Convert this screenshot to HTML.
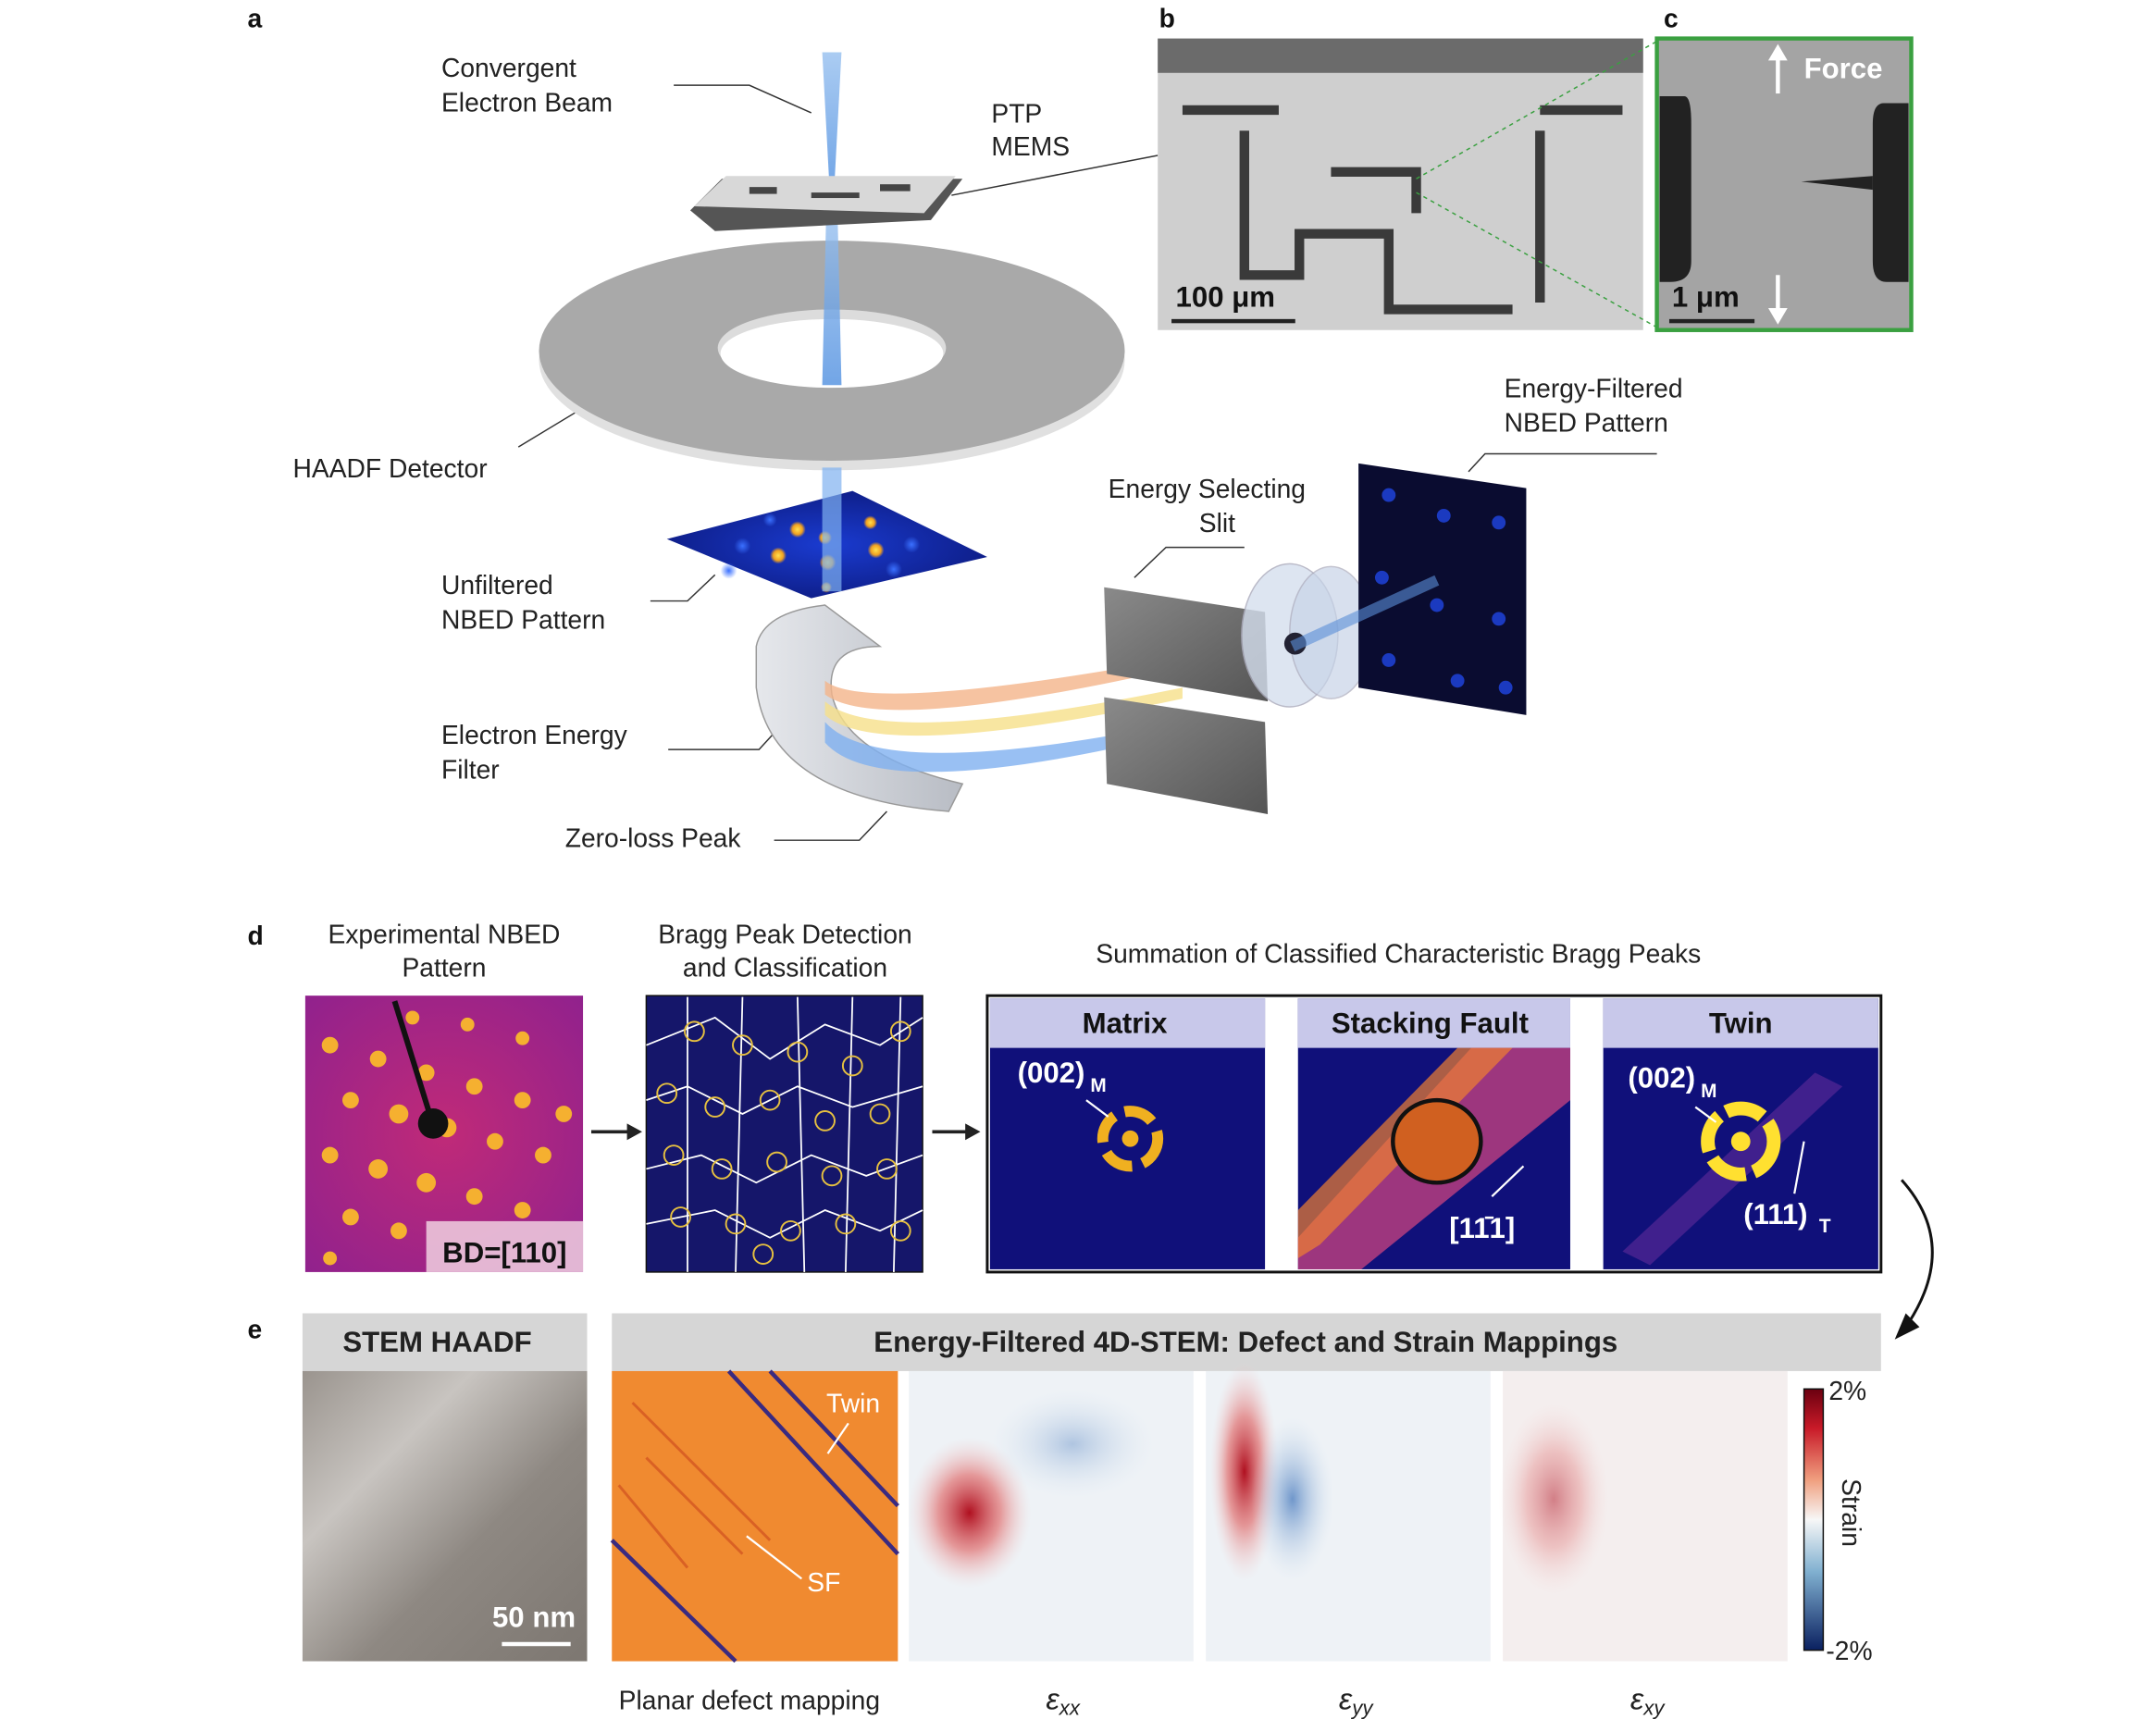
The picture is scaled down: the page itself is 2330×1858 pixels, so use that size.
<!DOCTYPE html>
<html><head><meta charset="utf-8"><style>
html,body{margin:0;padding:0;background:#fff;}
svg{display:block;}
text{font-family:"Liberation Sans",Arial,sans-serif;}
</style></head><body>
<svg width="2330" height="1858" viewBox="0 0 1568 1250" preserveAspectRatio="none" xmlns="http://www.w3.org/2000/svg">
<defs>
<linearGradient id="beam" x1="0" y1="0" x2="0" y2="1"><stop offset="0" stop-color="#9cc3f0"/><stop offset="1" stop-color="#4f8fe0"/></linearGradient>
<radialGradient id="nb" cx="0.5" cy="0.5" r="0.7"><stop offset="0" stop-color="#1a3bd0"/><stop offset="1" stop-color="#0a1470"/></radialGradient>
<radialGradient id="spot"><stop offset="0" stop-color="#ffe050"/><stop offset="0.6" stop-color="#f0a020"/><stop offset="1" stop-color="#f0a020" stop-opacity="0"/></radialGradient>
<radialGradient id="bspot"><stop offset="0" stop-color="#3a70ff"/><stop offset="1" stop-color="#3a70ff" stop-opacity="0"/></radialGradient>
<radialGradient id="redblob" cx="0.5" cy="0.5" r="0.5"><stop offset="0" stop-color="#b01020"/><stop offset="0.5" stop-color="#e07070" stop-opacity="0.7"/><stop offset="1" stop-color="#f4d0d0" stop-opacity="0"/></radialGradient>
<radialGradient id="blueblob" cx="0.5" cy="0.5" r="0.5"><stop offset="0" stop-color="#5080c0"/><stop offset="1" stop-color="#cfe0f0" stop-opacity="0"/></radialGradient>
<radialGradient id="mag" cx="0.5" cy="0.5" r="0.8"><stop offset="0" stop-color="#c02a78"/><stop offset="1" stop-color="#8a2090"/></radialGradient>
<linearGradient id="cbar" x1="0" y1="0" x2="0" y2="1"><stop offset="0" stop-color="#6b0010"/><stop offset="0.15" stop-color="#c81a28"/><stop offset="0.35" stop-color="#f0a080"/><stop offset="0.5" stop-color="#f7f7f7"/><stop offset="0.7" stop-color="#80b0d0"/><stop offset="1" stop-color="#0a2060"/></linearGradient>
<linearGradient id="haadf" x1="0" y1="0" x2="1" y2="1"><stop offset="0" stop-color="#9a948e"/><stop offset="0.3" stop-color="#c8c4c0"/><stop offset="0.6" stop-color="#8e8882"/><stop offset="1" stop-color="#7d7771"/></linearGradient>
<linearGradient id="slit" x1="0" y1="0" x2="1" y2="1"><stop offset="0" stop-color="#8a8a8a"/><stop offset="1" stop-color="#555"/></linearGradient>
<linearGradient id="filt" x1="0" y1="0" x2="1" y2="0"><stop offset="0" stop-color="#e6e8ec"/><stop offset="1" stop-color="#b8bcc4"/></linearGradient>
</defs>
<g font-size="19" fill="#111">
<text x="180" y="20" font-weight="bold">a</text>
<text x="843" y="20" font-weight="bold">b</text>
<text x="1210" y="20" font-weight="bold">c</text>
<text x="180" y="687" font-weight="bold">d</text>
<text x="180" y="973" font-weight="bold">e</text>
</g>
<g font-size="19" fill="#222">
<text x="321" y="56">Convergent</text><text x="321" y="81">Electron Beam</text>
<text x="721" y="89">PTP</text><text x="721" y="113">MEMS</text>
<text x="213" y="347">HAADF Detector</text>
<text x="321" y="432">Unfiltered</text><text x="321" y="457">NBED Pattern</text>
<text x="321" y="541">Electron Energy</text><text x="321" y="566">Filter</text>
<text x="411" y="616">Zero-loss Peak</text>
<text x="806" y="362">Energy Selecting</text><text x="872" y="387">Slit</text>
<text x="1094" y="289">Energy-Filtered</text><text x="1094" y="314">NBED Pattern</text>
</g>
<g stroke="#333" stroke-width="1" fill="none">
<polyline points="490,62 545,62 590,82"/>
<line x1="692" y1="142" x2="842" y2="113"/>
<line x1="377" y1="325" x2="430" y2="293"/>
<polyline points="473,437 500,437 520,418"/>
<polyline points="486,545 552,545 575,520"/>
<polyline points="563,611 625,611 645,590"/>
<polyline points="825,420 848,398 905,398"/>
<polyline points="1068,343 1080,330 1205,330"/>
</g>
<polygon points="598,38 612,38 606,150 604,150" fill="url(#beam)" opacity="0.85"/>
<ellipse cx="605" cy="262" rx="213" ry="80" fill="#e0e0e0"/>
<ellipse cx="605" cy="255" rx="213" ry="80" fill="#a9a9a9"/>
<ellipse cx="605" cy="253" rx="83" ry="28" fill="#dcdcdc"/>
<ellipse cx="605" cy="257" rx="81" ry="25" fill="#fff"/>
<polygon points="601,150 609,150 612,280 598,280" fill="url(#beam)" opacity="0.8"/>
<polygon points="502,153 525,130 700,130 677,160 520,168" fill="#555"/>
<polygon points="505,150 528,128 695,128 672,155" fill="#d8d8d8"/>
<g fill="#444"><rect x="545" y="136" width="20" height="5"/><rect x="640" y="134" width="22" height="5"/><rect x="590" y="140" width="35" height="4"/></g>
<polygon points="485,392 620,357 718,405 590,435" fill="url(#nb)"/>
<g fill="url(#spot)"><circle cx="580" cy="385" r="6"/><circle cx="566" cy="404" r="6"/><circle cx="602" cy="409" r="6"/><circle cx="637" cy="400" r="6"/><circle cx="633" cy="380" r="5"/><circle cx="600" cy="391" r="5"/><circle cx="601" cy="427" r="4"/></g>
<g fill="url(#bspot)"><circle cx="540" cy="397" r="6"/><circle cx="663" cy="396" r="6"/><circle cx="650" cy="414" r="6"/><circle cx="560" cy="378" r="5"/><circle cx="530" cy="415" r="6"/></g>
<rect x="598" y="340" width="14" height="90" fill="#7fb0f0" opacity="0.7"/>
<path d="M550,470 Q555,445 600,440 L640,470 Q600,470 605,505 Q615,550 700,570 L690,590 Q560,580 550,500 Z" fill="url(#filt)" stroke="#999" stroke-width="1"/>
<path d="M600,495 Q630,520 860,478 L860,485 Q640,535 600,505 Z" fill="#f4b48a" opacity="0.8"/>
<path d="M600,510 Q640,545 860,500 L860,508 Q640,555 600,520 Z" fill="#f6e08a" opacity="0.8"/>
<path d="M600,525 Q640,570 860,525 L850,535 Q640,585 600,540 Z" fill="#7fb0f0" opacity="0.8"/>
<polygon points="803,427 920,445 922,510 805,490" fill="url(#slit)"/>
<polygon points="803,507 920,525 922,592 805,570" fill="url(#slit)"/>
<ellipse cx="938" cy="462" rx="35" ry="52" fill="#d5dfee" opacity="0.8" stroke="#aab" />
<ellipse cx="968" cy="460" rx="30" ry="48" fill="#c8d4e8" opacity="0.7" stroke="#aab"/>
<circle cx="942" cy="468" r="8" fill="#223"/>
<polygon points="988,337 1110,355 1110,520 988,500" fill="#0a0c30"/>
<g fill="#1d3fd0" opacity="0.9"><circle cx="1010" cy="360" r="5"/><circle cx="1050" cy="375" r="5"/><circle cx="1090" cy="380" r="5"/><circle cx="1005" cy="420" r="5"/><circle cx="1045" cy="440" r="5"/><circle cx="1090" cy="450" r="5"/><circle cx="1010" cy="480" r="5"/><circle cx="1060" cy="495" r="5"/><circle cx="1095" cy="500" r="5"/></g>
<line x1="940" y1="470" x2="1045" y2="422" stroke="#5b8fd8" stroke-width="8" opacity="0.6"/>
<rect x="842" y="28" width="353" height="212" fill="#cfcfcf"/>
<rect x="842" y="28" width="353" height="25" fill="#6b6b6b"/>
<g fill="none" stroke="#3a3a3a" stroke-width="7">
<path d="M905,95 L905,200 L945,200 L945,170 L1010,170 L1010,225 L1100,225"/>
<path d="M1120,95 L1120,220"/>
<path d="M968,125 L1030,125 L1030,155"/>
<path d="M860,80 L930,80 M1120,80 L1180,80"/>
</g>
<rect x="852" y="232" width="90" height="3" fill="#222"/>
<text x="855" y="223" font-size="21" font-weight="bold" fill="#111">100 μm</text>
<rect x="1205" y="28" width="185" height="212" fill="#a4a4a4" stroke="#3aa040" stroke-width="3"/>
<path d="M1207,70 L1225,70 Q1230,70 1230,90 L1230,190 Q1230,205 1215,205 L1207,205 Z" fill="#222"/>
<path d="M1388,75 L1370,75 Q1362,75 1362,90 L1362,190 Q1362,205 1372,205 L1388,205 Z" fill="#222"/>
<polygon points="1310,132 1362,128 1362,138" fill="#222"/>
<text x="1312" y="57" font-size="21" font-weight="bold" fill="#fff">Force</text>
<line x1="1293" y1="68" x2="1293" y2="40" stroke="#fff" stroke-width="3"/><polygon points="1286,44 1300,44 1293,32" fill="#fff"/>
<line x1="1293" y1="200" x2="1293" y2="228" stroke="#fff" stroke-width="3"/><polygon points="1286,224 1300,224 1293,236" fill="#fff"/>
<text x="1216" y="223" font-size="21" font-weight="bold" fill="#111">1 μm</text>
<rect x="1214" y="232" width="62" height="3" fill="#222"/>
<line x1="1030" y1="130" x2="1205" y2="30" stroke="#3aa040" stroke-dasharray="3,3"/>
<line x1="1030" y1="140" x2="1205" y2="238" stroke="#3aa040" stroke-dasharray="3,3"/>
<g font-size="19" fill="#222" text-anchor="middle">
<text x="323" y="686">Experimental NBED</text><text x="323" y="710">Pattern</text>
<text x="571" y="686">Bragg Peak Detection</text><text x="571" y="710">and Classification</text>
<text x="1017" y="700">Summation of Classified Characteristic Bragg Peaks</text>
</g>
<rect x="222" y="724" width="202" height="201" fill="url(#mag)"/>
<g fill="#f5b030">
<circle cx="240" cy="760" r="6"/><circle cx="275" cy="770" r="6"/><circle cx="310" cy="780" r="6"/><circle cx="345" cy="790" r="6"/><circle cx="380" cy="800" r="6"/><circle cx="410" cy="810" r="6"/>
<circle cx="255" cy="800" r="6"/><circle cx="290" cy="810" r="7"/><circle cx="325" cy="820" r="7"/><circle cx="360" cy="830" r="6"/><circle cx="395" cy="840" r="6"/>
<circle cx="240" cy="840" r="6"/><circle cx="275" cy="850" r="7"/><circle cx="310" cy="860" r="7"/><circle cx="345" cy="870" r="6"/><circle cx="380" cy="880" r="6"/>
<circle cx="255" cy="885" r="6"/><circle cx="290" cy="895" r="6"/><circle cx="240" cy="915" r="5"/><circle cx="300" cy="740" r="5"/><circle cx="340" cy="745" r="5"/><circle cx="380" cy="755" r="5"/>
</g>
<line x1="287" y1="728" x2="314" y2="815" stroke="#111" stroke-width="4"/><circle cx="315" cy="817" r="11" fill="#111"/>
<rect x="310" y="888" width="114" height="37" fill="#f0d0e0" opacity="0.85"/>
<text x="367" y="918" font-size="21" font-weight="bold" text-anchor="middle" fill="#111">BD=[110]</text>
<rect x="470" y="724" width="201" height="201" fill="#15166a" stroke="#111"/>
<g stroke="#fff" stroke-width="1.2" fill="none">
<path d="M470,760 L520,740 L560,770 L600,745 L640,760 L671,740 M470,800 L500,790 L540,810 L580,790 L620,805 L671,790 M470,850 L510,840 L550,860 L590,840 L630,855 L671,840 M470,890 L520,880 L560,900 L600,880 L640,895 L671,880 M500,725 L500,925 M540,725 L535,925 M580,725 L585,925 M620,725 L615,925 M655,725 L650,925"/>
</g>
<g fill="none" stroke="#e6c040" stroke-width="1.3">
<circle cx="505" cy="750" r="7"/><circle cx="540" cy="760" r="7"/><circle cx="580" cy="765" r="7"/><circle cx="620" cy="775" r="7"/><circle cx="655" cy="750" r="7"/>
<circle cx="485" cy="795" r="7"/><circle cx="520" cy="805" r="7"/><circle cx="560" cy="800" r="7"/><circle cx="600" cy="815" r="7"/><circle cx="640" cy="810" r="7"/>
<circle cx="490" cy="840" r="7"/><circle cx="525" cy="850" r="7"/><circle cx="565" cy="845" r="7"/><circle cx="605" cy="855" r="7"/><circle cx="645" cy="850" r="7"/>
<circle cx="495" cy="885" r="7"/><circle cx="535" cy="890" r="7"/><circle cx="575" cy="895" r="7"/><circle cx="615" cy="890" r="7"/><circle cx="655" cy="895" r="7"/><circle cx="555" cy="912" r="7"/>
</g>
<g stroke="#222" stroke-width="2.5"><line x1="430" y1="823" x2="458" y2="823"/><line x1="678" y1="823" x2="704" y2="823"/></g>
<polygon points="456,817 467,823 456,829" fill="#222"/><polygon points="702,817 713,823 702,829" fill="#222"/>
<rect x="718" y="724" width="650" height="201" fill="#fff" stroke="#111" stroke-width="2"/>
<rect x="720" y="726" width="200" height="197" fill="#10107a"/>
<rect x="944" y="726" width="198" height="197" fill="#10107a"/>
<rect x="1166" y="726" width="200" height="197" fill="#10107a"/>
<g fill="#c8c8ea"><rect x="720" y="726" width="200" height="36"/><rect x="944" y="726" width="198" height="36"/><rect x="1166" y="726" width="200" height="36"/></g>
<g font-size="21" font-weight="bold" fill="#111" text-anchor="middle"><text x="818" y="751">Matrix</text><text x="1040" y="751">Stacking Fault</text><text x="1266" y="751">Twin</text></g>
<circle cx="822" cy="828" r="20" fill="none" stroke="#f0b020" stroke-width="8" stroke-dasharray="22,8"/>
<circle cx="822" cy="828" r="6" fill="#f0b020"/>
<polygon points="944,900 1070,762 1142,762 1142,800 990,923 944,923" fill="#c04080" opacity="0.8"/>
<polygon points="944,880 1060,762 1100,762 960,905 944,915" fill="#f08030" opacity="0.7"/>
<ellipse cx="1045" cy="830" rx="32" ry="30" fill="#d06020" stroke="#111" stroke-width="3"/>
<polygon points="1180,910 1320,780 1340,790 1200,920" fill="#7030a0" opacity="0.5"/>
<circle cx="1266" cy="830" r="24" fill="none" stroke="#ffe030" stroke-width="10" stroke-dasharray="28,6"/>
<circle cx="1266" cy="830" r="7" fill="#ffe030"/>
<g fill="#fff" font-weight="bold" font-size="21">
<text x="740" y="787">(002)</text><text x="793" y="794" font-size="14">M</text>
<text x="1184" y="791">(002)</text><text x="1237" y="798" font-size="14">M</text>
<text x="1054" y="900">[11̄1]</text>
<text x="1268" y="890">(111)</text><text x="1323" y="896" font-size="14">T</text>
</g>
<g stroke="#fff" stroke-width="1.5"><line x1="790" y1="800" x2="806" y2="812"/><line x1="1233" y1="805" x2="1248" y2="816"/><line x1="1108" y1="848" x2="1085" y2="870"/><line x1="1312" y1="830" x2="1305" y2="868"/></g>
<path d="M1383,858 Q1425,905 1388,962" fill="none" stroke="#111" stroke-width="2"/>
<polygon points="1378,974 1386,955 1396,965" fill="#111"/>
<rect x="220" y="955" width="207" height="42" fill="#d6d6d6"/>
<rect x="445" y="955" width="923" height="42" fill="#d6d6d6"/>
<text x="318" y="983" font-size="21" font-weight="bold" text-anchor="middle" fill="#222">STEM HAADF</text>
<text x="906" y="983" font-size="21" font-weight="bold" text-anchor="middle" fill="#222">Energy-Filtered 4D-STEM: Defect and Strain Mappings</text>
<rect x="220" y="997" width="207" height="211" fill="url(#haadf)"/>
<text x="358" y="1183" font-size="21" font-weight="bold" fill="#fff">50 nm</text>
<rect x="365" y="1194" width="50" height="3" fill="#fff"/>
<rect x="445" y="997" width="208" height="211" fill="#f08a30"/>
<g stroke="#3a2a80" stroke-width="3"><line x1="530" y1="997" x2="653" y2="1130"/><line x1="445" y1="1120" x2="535" y2="1208"/><line x1="560" y1="997" x2="653" y2="1095"/></g>
<g stroke="#d05020" stroke-width="2" opacity="0.7"><line x1="460" y1="1020" x2="560" y2="1120"/><line x1="470" y1="1060" x2="540" y2="1130"/><line x1="450" y1="1080" x2="500" y2="1140"/></g>
<text x="601" y="1027" font-size="19" fill="#fff">Twin</text>
<text x="587" y="1157" font-size="19" fill="#fff">SF</text>
<g stroke="#fff" stroke-width="1.5"><line x1="617" y1="1035" x2="602" y2="1057"/><line x1="583" y1="1148" x2="543" y2="1117"/></g>
<rect x="661" y="997" width="207" height="211" fill="#eef2f6"/>
<ellipse cx="705" cy="1100" rx="45" ry="55" fill="url(#redblob)"/>
<ellipse cx="780" cy="1050" rx="60" ry="40" fill="url(#blueblob)" opacity="0.4"/>
<rect x="877" y="997" width="207" height="211" fill="#eef2f6"/>
<ellipse cx="905" cy="1070" rx="25" ry="80" fill="url(#redblob)"/>
<ellipse cx="940" cy="1090" rx="30" ry="60" fill="url(#blueblob)" opacity="0.8"/>
<rect x="1093" y="997" width="207" height="211" fill="#f4eeee"/>
<ellipse cx="1130" cy="1090" rx="40" ry="70" fill="url(#redblob)" opacity="0.5"/>
<rect x="1312" y="1010" width="14" height="190" fill="url(#cbar)" stroke="#111"/>
<text x="1330" y="1018" font-size="19" fill="#222">2%</text>
<text x="1328" y="1207" font-size="19" fill="#222">-2%</text>
<text x="1340" y="1100" font-size="19" fill="#222" transform="rotate(90 1340 1100)" text-anchor="middle">Strain</text>
<g font-size="19" fill="#222" text-anchor="middle">
<text x="545" y="1243">Planar defect mapping</text>
<text x="773" y="1243" font-style="italic" font-size="22">ε<tspan font-size="15" dy="4">xx</tspan></text>
<text x="986" y="1243" font-style="italic" font-size="22">ε<tspan font-size="15" dy="4">yy</tspan></text>
<text x="1198" y="1243" font-style="italic" font-size="22">ε<tspan font-size="15" dy="4">xy</tspan></text>
</g>
</svg>
</body></html>
